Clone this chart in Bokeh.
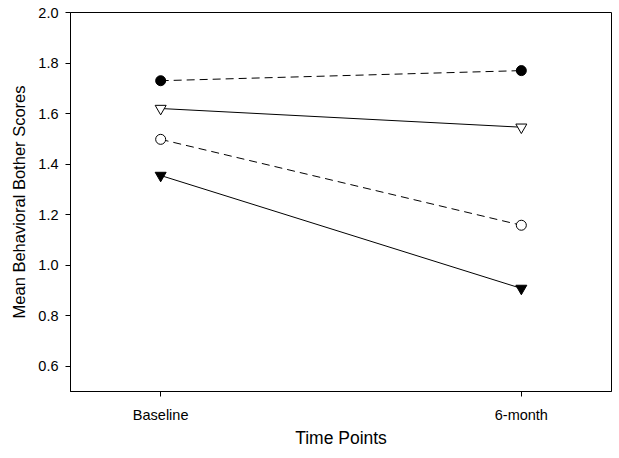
from bokeh.plotting import figure
from bokeh.models import Range1d, FixedTicker, NumeralTickFormatter
from bokeh.embed import file_html
from bokeh.resources import INLINE

# Data
time_labels = ["Baseline", "6-month"]
time_x = [1, 2]
group_a = [1.73, 1.77]   # filled circle, dashed
group_b = [1.62, 1.546]  # open inverted triangle, solid
group_c = [1.498, 1.158] # open circle, dashed
group_d = [1.355, 0.908] # filled inverted triangle, solid
y_ticks = [0.6, 0.8, 1.0, 1.2, 1.4, 1.6, 1.8, 2.0]

FONT = "Liberation Sans"

p = figure(width=612, height=450, output_backend="svg", toolbar_location=None,
           x_range=Range1d(0.75, 2.25), y_range=Range1d(0.5, 2.0),
           min_border_left=70, min_border_right=1, min_border_top=12, min_border_bottom=59)
p.grid.visible = False
p.outline_line_color = "black"
p.outline_line_width = 1
p.background_fill_color = "white"
p.border_fill_color = "white"

series = [
    (group_a, "dashed", "circle", "black"),
    (group_b, "solid", "inverted_triangle", "white"),
    (group_c, "dashed", "circle", "white"),
    (group_d, "solid", "inverted_triangle", "black"),
]
for vals, dash, marker, fill in series:
    p.line(time_x, vals, line_color="black", line_width=1,
           line_dash="8 5" if dash == "dashed" else "solid")
    p.scatter(time_x, vals, marker=marker, size=10 if marker == "circle" else 11,
              fill_color=fill, line_color="black", line_width=1)

for ax in (p.xaxis[0], p.yaxis[0]):
    ax.axis_line_color = "black"
    ax.major_tick_line_color = "black"
    ax.minor_tick_line_color = None
    ax.major_tick_out = 5
    ax.major_tick_in = 0
    ax.major_label_text_font = FONT
    ax.major_label_text_font_size = "14.5px"
    ax.major_label_text_color = "black"
    ax.axis_label_text_font = FONT
    ax.axis_label_text_font_style = "normal"
    ax.axis_label_text_color = "black"

p.xaxis.ticker = FixedTicker(ticks=time_x)
p.xaxis.major_label_overrides = {x: l for x, l in zip(time_x, time_labels)}
p.xaxis.axis_label = "Time Points"
p.xaxis.axis_label_text_font_size = "17.5px"
p.xaxis.major_label_standoff = 10
p.xaxis.axis_label_standoff = 2

p.yaxis.ticker = FixedTicker(ticks=y_ticks)
p.yaxis.formatter = NumeralTickFormatter(format="0.0")
p.yaxis.axis_label = "Mean Behavioral Bother Scores"
p.yaxis.axis_label_text_font_size = "16.5px"
p.yaxis.major_label_standoff = 7
p.yaxis.axis_label_standoff = 7

open("out.html", "w").write(file_html(p, INLINE))
